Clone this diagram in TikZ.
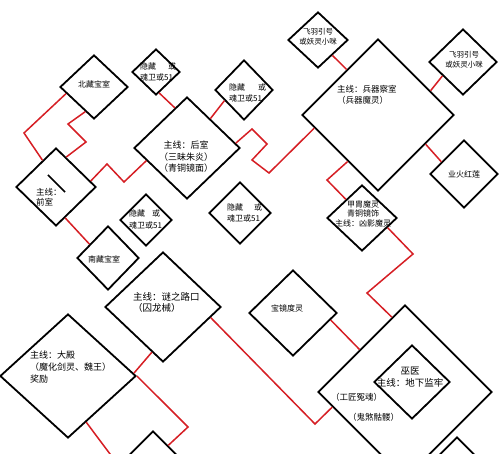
\documentclass[tikz,border=0pt]{standalone}
\usepackage{fontspec}
\setmainfont{Noto Sans CJK SC}
\usetikzlibrary{shapes.geometric,calc}
\definecolor{lred}{RGB}{214,30,36}
\newcommand\myfs[2]{\fontsize{#1}{#2}\selectfont}
\tikzset{
  dia/.style={draw=black, line width=1.8pt, shape=diamond, inner sep=0pt, line join=miter},
  rl/.style={draw=lred, line width=1.5pt, line join=miter},
  tx/.style={inner sep=0pt, font=\myfs{8}{11}},
}
\begin{document}
\begin{tikzpicture}[x=1pt,y=-1pt]
\useasboundingbox (0,0) rectangle (500,454);
\fill[white] (0,0) rectangle (500,454);
\begin{scope}
\clip (0,0) rectangle (500,454);
% diamonds
\node[dia, minimum width=68pt, minimum height=64pt] (A) at (94,87) {};
\node[dia, minimum width=48pt, minimum height=46pt] (B) at (156,72) {};
\node[dia, minimum width=106pt, minimum height=102pt] (C) at (187,148) {};
\node[dia, minimum width=58pt, minimum height=60pt] (D) at (244,90) {};
\node[dia, minimum width=80pt, minimum height=78pt] (E) at (56,187) {};
\node[dia, minimum width=52pt, minimum height=52pt] (F) at (146,220) {};
\node[dia, minimum width=62pt, minimum height=62pt] (G) at (240,213) {};
\node[dia, minimum width=62pt, minimum height=64pt] (H) at (108,258) {};
\node[dia, minimum width=116pt, minimum height=110pt] (I) at (163,307) {};
\node[dia, minimum width=136pt, minimum height=124pt] (J) at (68,376) {};
\node[dia, minimum width=88pt, minimum height=86pt] (K) at (293,313) {};
\node[dia, minimum width=174pt, minimum height=174pt] (L) at (405,392) {};
\node[dia, minimum width=76pt, minimum height=74pt] (M) at (412,382) {};
\node[dia, minimum width=80pt, minimum height=80pt] (N) at (457,477) {};
\node[dia, minimum width=100pt, minimum height=100pt] (O) at (153,481) {};
\node[dia, minimum width=152pt, minimum height=152pt] (P) at (378,115) {};
\node[dia, minimum width=60pt, minimum height=56pt] (Q) at (318,40) {};
\node[dia, minimum width=68pt, minimum height=66pt] (R) at (463,62) {};
\node[dia, minimum width=68pt, minimum height=68pt] (S) at (464,174) {};
\node[dia, minimum width=70pt, minimum height=66pt] (T) at (362,218) {};
\draw[line width=1.5pt] (48,175) -- (65,192);
% red connectors
\draw[rl] ($(A.west)!0.2!(A.south)$) -- (24,133) -- ($(E.north)!0.33!(E.west)$);
\draw[rl] ($(A.west)!0.75!(A.south)$) -- (68,124) -- (86,142) -- ($(E.north)!0.25!(E.east)$);
\draw[rl] ($(E.north)!0.85!(E.east)$) -- (107,164) -- (124,182) -- ($(C.west)!0.245!(C.south)$);
\draw[rl] ($(E.south)!0.225!(E.east)$) -- ($(H.west)!0.42!(H.north)$);
\draw[rl] ($(B.south)!0.125!(B.east)$) -- ($(C.north)!0.226!(C.west)$);
\draw[rl] ($(C.north)!0.434!(C.east)$) -- ($(D.west)!0.345!(D.south)$);
\draw[rl] ($(C.north)!0.906!(C.east)$) -- (252,129) -- (267,144) -- (252,160) -- (269,173) -- ($(P.west)!0.171!(P.south)$);
\draw[rl] ($(Q.south)!0.467!(Q.east)$) -- ($(P.north)!0.408!(P.west)$);
\draw[rl] ($(P.north)!0.684!(P.east)$) -- ($(R.west)!0.41!(R.south)$);
\draw[rl] ($(P.east)!0.38!(P.south)$) -- ($(S.west)!0.35!(S.north)$);
\draw[rl] ($(P.west)!0.605!(P.south)$) -- (327,180) -- ($(T.west)!0.55!(T.north)$);
\draw[rl] ($(T.east)!0.286!(T.south)$) -- (413,254) -- (367,293) -- ($(L.north)!0.149!(L.west)$);
\draw[rl] ($(K.east)!0.16!(K.south)$) -- ($(L.north)!0.517!(L.west)$);
\draw[rl] ($(I.east)!0.19!(I.south)$) -- (315,424) -- ($(L.west)!0.172!(L.south)$);
\draw[rl] ($(I.west)!0.81!(I.south)$) -- ($(J.north)!0.956!(J.east)$);
\draw[rl] (J.east) -- (188,427) -- ($(O.north)!0.3!(O.east)$);
\coordinate (jout) at (113,458);
\draw[rl] ($(J.east)!0.735!(J.south)$) -- (jout);
% texts
\node[tx] (tA) at (94,84) {北藏宝室};
\node[tx, align=left, anchor=west] (tB) at (140,71.5) {隐藏\hspace{12pt}或\\魂卫或51};
\node[tx, align=center, font=\myfs{9}{11.5}] (tC) at (186,157) {主线：后室\\（三昧朱炎）\\（青铜镜面）};
\node[tx, align=left, anchor=west] (tD) at (229,92.5) {隐藏\hspace{13pt}或\\魂卫或51};
\node[tx, align=left, anchor=west, font=\myfs{8.5}{10.5}] (tE) at (36,197) {主线：\\前室};
\node[tx, align=left, anchor=west, font=\myfs{8}{12.5}] (tF) at (129,219.5) {隐藏\hspace{7pt}或\\魂卫或51};
\node[tx, align=left, anchor=west] (tG) at (227,213) {隐藏\hspace{11pt}或\\魂卫或51};
\node[tx] (tH) at (104,259) {南藏宝室};
\node[tx, align=left, anchor=west, font=\myfs{9.5}{11}] (tI) at (133,302.5) {主线：谜之路口\\（囚龙械）};
\node[tx, align=left, anchor=west, font=\myfs{9}{12}] (tJ) at (30,367) {主线：大殿\\（魔化剑灵、魏王）\\奖励};
\node[tx] (tK) at (287,308) {宝镜度灵};
\node[tx, anchor=west, font=\myfs{8.5}{11}] (tL1) at (331,397) {（工匠冤魂）};
\node[tx, anchor=west, font=\myfs{8.5}{11}] (tL2) at (348,417) {（鬼煞骷髅）};
\node[tx, align=center, font=\myfs{9.5}{12}] (tM) at (410,377) {巫医\\主线：地下监牢};
\node[tx, align=left, anchor=west, font=\myfs{8.5}{10.5}] (tP) at (337,95) {主线：兵器察室\\（兵器魔灵）};
\node[tx, align=center, font=\myfs{7.5}{10}] (tQ) at (318,37) {飞羽引号\\或妖灵小咪};
\node[tx, align=center, font=\myfs{7.5}{10}] (tR) at (464,60) {飞羽引号\\或妖灵小咪};
\node[tx] (tS) at (464,174) {业火红莲};
\node[tx, align=center, font=\myfs{8}{9.5}] (tT) at (363,213.5) {甲胄魔灵\\青铜镜饰\\主线：凶影魔灵};
\end{scope}
\end{tikzpicture}
\end{document}
